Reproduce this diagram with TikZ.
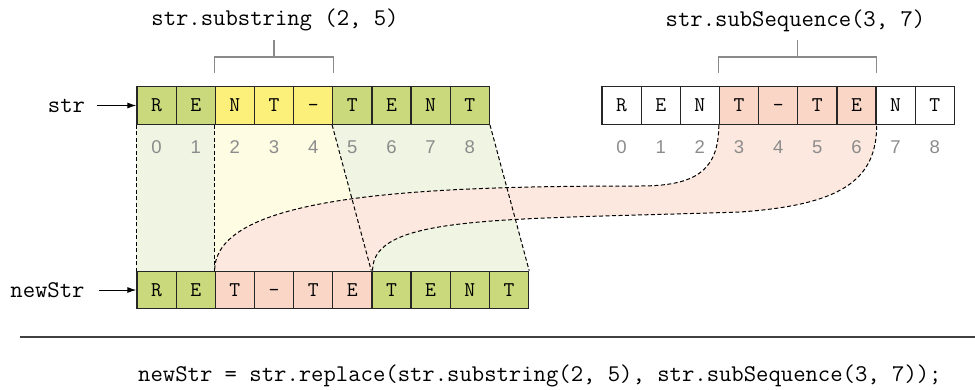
\documentclass[tikz,border=0pt]{standalone}
\usepackage{fontspec}
\setsansfont{Liberation Sans}
\usepackage{xcolor}
\usepackage{tikz}
\usetikzlibrary{positioning, arrows.meta, calc}

\pgfdeclarelayer{bg}
\pgfsetlayers{bg,main}

\definecolor{cellgreen}{HTML}{C9D97B}
\definecolor{cellyellow}{HTML}{FCF07A}
\definecolor{cellpink}{HTML}{F9D6C6}
\definecolor{areagreen}{HTML}{F0F4E2}
\definecolor{areayellow}{HTML}{FEFCE3}
\definecolor{areapink}{HTML}{FCE8DE}
\definecolor{idxgray}{HTML}{8C8C8C}
\definecolor{brackgray}{HTML}{8A8A8A}

\tikzset{
  cell/.style={draw=black!85, line width=1.3pt, minimum width=39.15pt, minimum height=37.5pt,
    inner sep=0pt, text height=12pt, text depth=0pt, font=\ttfamily\fontsize{21}{25}\selectfont},
  code/.style={inner sep=0pt, font=\ttfamily\fontsize{24}{28}\selectfont},
  idx/.style={inner sep=0pt, text=idxgray, font=\sffamily\fontsize{18.5}{22}\selectfont},
  seam/.style={line width=1pt, dash pattern=on 4pt off 2.5pt},
  bracket/.style={draw=brackgray, line width=1.3pt},
  pointer/.style={-{Latex[length=9pt,width=6pt]}, line width=1pt},
  rule/.style={line width=1.5pt, draw=black!75},
}

\begin{document}
\begin{tikzpicture}[x=1pt, y=-1pt]
        \useasboundingbox (0,0) rectangle (975,389);

        % Cells
        \foreach \c/\f [count=\i from 0] in {R/cellgreen, E/cellgreen, N/cellyellow, T/cellyellow, -/cellyellow, T/cellgreen, E/cellgreen, N/cellgreen, T/cellgreen}
            \node[cell, fill=\f] (s\i) at ({156.575+39.15*\i}, 105.5) {\c};
        \foreach \c/\f [count=\i from 0] in {R/white, E/white, N/white, T/cellpink, -/cellpink, T/cellpink, E/cellpink, N/white, T/white}
            \node[cell, fill=\f] (q\i) at ({621.575+39.15*\i}, 105.5) {\c};
        \foreach \c/\f [count=\i from 0] in {R/cellgreen, E/cellgreen, T/cellpink, -/cellpink, T/cellpink, E/cellpink, T/cellgreen, E/cellgreen, N/cellgreen, T/cellgreen}
            \node[cell, fill=\f] (n\i) at ({156.575+39.15*\i}, 290) {\c};

        % Indices
        \foreach \i in {0,...,8} {
            \path (s\i.south) ++(0,28.5) node[idx, anchor=base] {\i};
            \path (q\i.south) ++(0,28.5) node[idx, anchor=base] {\i};
        }

        % Labels
        \node[code, anchor=base] (strlbl) at (66.5,112.7) {str};
        \node[code, anchor=base] (newlbl) at (47.5,297.2) {newStr};
        \draw[pointer] ([xshift=12pt]strlbl.east |- s0.west) -- (s0.west);
        \draw[pointer] ([xshift=14pt]newlbl.east |- n0.west) -- (n0.west);

        % Brackets
        \node[code, anchor=base] (sublbl) at (275,25.5) {str.substring (2, 5)};
        \draw[bracket] ([yshift=13pt]s2.north west) -- ++(0,-16) -| ([yshift=13pt]s4.north east);
        \draw[bracket] ($(s2.north west)!.5!(s4.north east)$) ++(0,-29) -- ++(0,-17);
        \node[code, anchor=base] (seqlbl) at (795.5,26) {str.subSequence(3, 7)};
        \draw[bracket] ([yshift=13pt]q3.north west) -- ++(0,-16) -| ([yshift=13pt]q6.north east);
        \draw[bracket] ($(q3.north west)!.5!(q6.north east)$) ++(0,-29) -- ++(0,-17);

        % Bends of the moved part
        \coordinate (bendA) at (640,186);
        \coordinate (bendB) at (740,212);

        \begin{pgfonlayer}{bg}
            % Areas
            \fill[areagreen] (s0.south west) -- (s1.south east) -- (n1.north east) -- (n0.north west) -- cycle;
            \fill[areayellow] (s2.south west) -- (s4.south east) -- (n5.north east) -- (n2.north west) -- cycle;
            \fill[areagreen] (s5.south west) -- (s8.south east) -- (n9.north east) -- (n6.north west) -- cycle;
            \fill[areapink] (q3.south west) .. controls +(0,46) and +(55,0) .. (bendA)
                .. controls +(-220,0) and +(0,-76) .. (n2.north west) -- (n5.north east)
                .. controls +(0,-56) and +(-240,8) .. (bendB)
                .. controls +(100,-7) and +(0,56) .. (q6.south east) -- cycle;

            % Seams
            \draw[seam] (s0.south west) -- (n0.north west);
            \draw[seam] (s2.south west) -- (n2.north west);
            \draw[seam] (s5.south west) -- (n6.north west);
            \draw[seam] (s8.south east) -- (n9.north east);
            \draw[seam] (q3.south west) .. controls +(0,46) and +(55,0) .. (bendA)
                .. controls +(-220,0) and +(0,-76) .. (n2.north west);
            \draw[seam] (n5.north east) .. controls +(0,-56) and +(-240,8) .. (bendB)
                .. controls +(100,-7) and +(0,56) .. (q6.south east);
        \end{pgfonlayer}

        % Code
        \draw[rule] (20,337) -- (975,337);
        \node[code, anchor=base west] (codeline) at (138,381.5) {newStr = str.replace(str.substring(2, 5), str.subSequence(3, 7));};

    \end{tikzpicture}
\end{document}
